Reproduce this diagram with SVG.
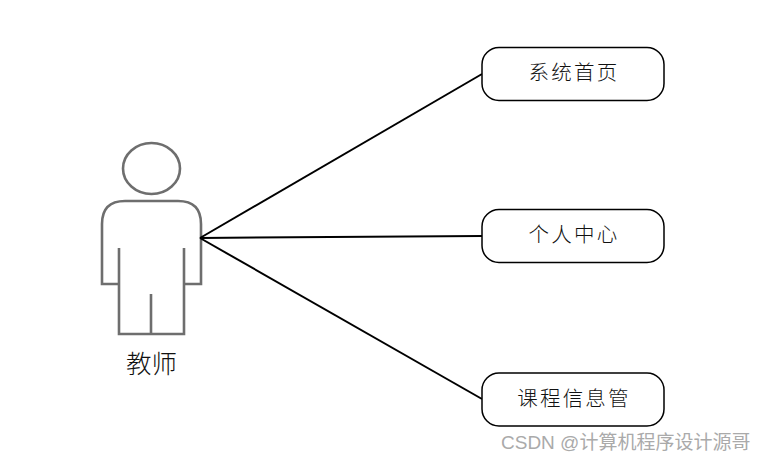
<svg xmlns="http://www.w3.org/2000/svg" width="768" height="462" viewBox="0 0 768 462">
<style>
.box{fill:#fff;stroke:#000;stroke-width:1.5}
.lbl{font-family:"Noto Sans CJK SC","Noto Sans",sans-serif;font-size:20.500px;font-weight:300;letter-spacing:2.200px;fill:#111;text-anchor:middle}
.act{fill:none;stroke:#6e6e6e;stroke-width:2.600}
.con{fill:none;stroke:#000;stroke-width:2}
</style>
<rect width="768" height="462" fill="#fff"/>
<g id="actor">
<ellipse class="act" cx="151.5" cy="168.5" rx="28.5" ry="25.5"/>
<path class="act" d="M119 284H102V224Q102 201 125 201H178Q201 201 201 224V284H184"/>
<path class="act" d="M119 248V334H184V248M151 294V334"/>
<text x="151.500" y="373" style="font-family:'Noto Sans CJK SC',sans-serif;font-size:25.500px;font-weight:300;fill:#111;text-anchor:middle">教师</text>
</g>
<g id="connectors">
<path class="con" d="M200 238L482 74"/>
<path class="con" d="M200 238L482 236"/>
<path class="con" d="M200 238L482 399"/>
</g>
<g id="node1"><rect class="box" x="482" y="47.500" width="182" height="53" rx="17"/><text class="lbl" x="574" y="80">系统首页</text></g>
<g id="node2"><rect class="box" x="482" y="209.500" width="182" height="53" rx="17"/><text class="lbl" x="574" y="242">个人中心</text></g>
<g id="node3"><rect class="box" x="482" y="373" width="182" height="53" rx="17"/><text class="lbl" x="574" y="406">课程信息管</text></g>
<text id="watermark" x="501" y="449" style="font-family:'Liberation Sans','Noto Sans CJK SC',sans-serif;font-size:19px;fill:#aaa">CSDN @计算机程序设计源哥</text>
</svg>
